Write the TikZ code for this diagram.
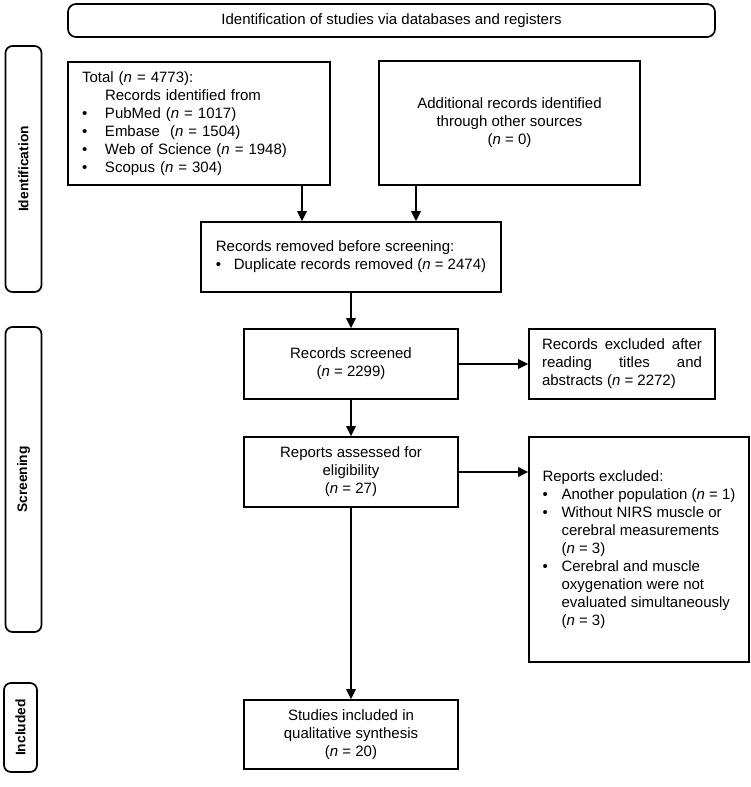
\documentclass[tikz,border=0pt]{standalone}
\usepackage{fontspec}
\setmainfont{Liberation Sans}
\usetikzlibrary{arrows.meta}
\setlength{\parindent}{0pt}
\newcommand{\itm}[1][19pt]{\makebox[#1][l]{\textbullet}}
\newcommand{\ind}[1][19pt]{\hspace*{#1}}
\newcommand{\nn}{\textit{n}}
\tikzset{
  blk/.style={draw, line width=1.7pt, inner sep=0pt,
    font=\fontsize{15}{18}\selectfont},
  phase/.style={draw, rounded corners=7pt, line width=1.7pt, rotate=90,
    inner sep=0pt, font=\fontsize{13.8}{16}\selectfont\bfseries},
  arr/.style={-{Triangle[length=10pt,width=9.5pt]}, line width=1.7pt}
}

\begin{document}
\begin{tikzpicture}[x=1pt,y=-1pt]
\useasboundingbox (0,0) rectangle (750,787);

% header and phases
\node[blk, rounded corners=8pt, minimum width=647pt, minimum height=33pt]
  (head) at (391.5,20.5) {Identification of studies via databases and registers};
\node[phase, minimum width=246pt, minimum height=36pt] (idph) at (23.5,169) {Identification};
\node[phase, minimum width=305pt, minimum height=36pt] (scph) at (23.5,479.5) {Screening};
\node[phase, minimum width=89pt, minimum height=33pt] (inph) at (20.5,727.5) {Included};

% identification
\node[blk, minimum width=262pt, minimum height=123pt, text width=234pt, align=left]
  (tot) at (199,123.5) {Total (\nn{} = 4773):\\
  \ind[23pt]Records identified from\\
  \itm[23pt]PubMed (\nn{} = 1017)\\
  \itm[23pt]Embase~ (\nn{} = 1504)\\
  \itm[23pt]Web of Science (\nn{} = 1948)\\
  \itm[23pt]Scopus (\nn{} = 304)};
\node[blk, minimum width=261pt, minimum height=124pt, align=center]
  (add) at (509.5,123) {Additional records identified\\ through other sources\\ (\nn{} = 0)};
\node[blk, minimum width=300pt, minimum height=70pt, align=left]
  (rem) at (351,257) {Records removed before screening:\\
  \itm[18pt]Duplicate records removed (\nn{} = 2474)};

% screening
\node[blk, minimum width=214pt, minimum height=70pt, align=center]
  (scr) at (351,364) {Records screened\\ (\nn{} = 2299)};
\node[blk, minimum width=186pt, minimum height=70pt, text width=160pt, align=justify]
  (ex1) at (622,364) {Records excluded after\linebreak reading titles and\linebreak abstracts (\nn{} = 2272)};
\node[blk, minimum width=214pt, minimum height=70pt, align=center]
  (rep) at (351,472) {Reports assessed for\\ eligibility\\ (\nn{} = 27)};
\node[blk, minimum width=220pt, minimum height=225pt, align=left]
  (ex2) at (639,549.5) {Reports excluded:\\
  \itm Another population (\nn{} = 1)\\
  \itm Without NIRS muscle or\\
  \ind cerebral measurements\\
  \ind (\nn{} = 3)\\
  \itm Cerebral and muscle\\
  \ind oxygenation were not\\
  \ind evaluated simultaneously\\
  \ind (\nn{} = 3)};

% included
\node[blk, minimum width=214pt, minimum height=69pt, align=center]
  (stu) at (351,734.5) {Studies included in\\ qualitative synthesis\\ (\nn{} = 20)};

% connectors
\coordinate (inL) at ([xshift=-49pt]rem.north);
\coordinate (inR) at ([xshift=65pt]rem.north);
\draw[arr] (tot.south -| inL) -- (inL);
\draw[arr] (add.south -| inR) -- (inR);
\draw[arr] (rem) -- (scr);
\draw[arr] (scr) -- (rep);
\draw[arr] (rep) -- (stu);
\draw[arr] (scr) -- (ex1);
\draw[arr] (rep.east) -- (rep.east -| ex2.west);

\end{tikzpicture}
\end{document}
